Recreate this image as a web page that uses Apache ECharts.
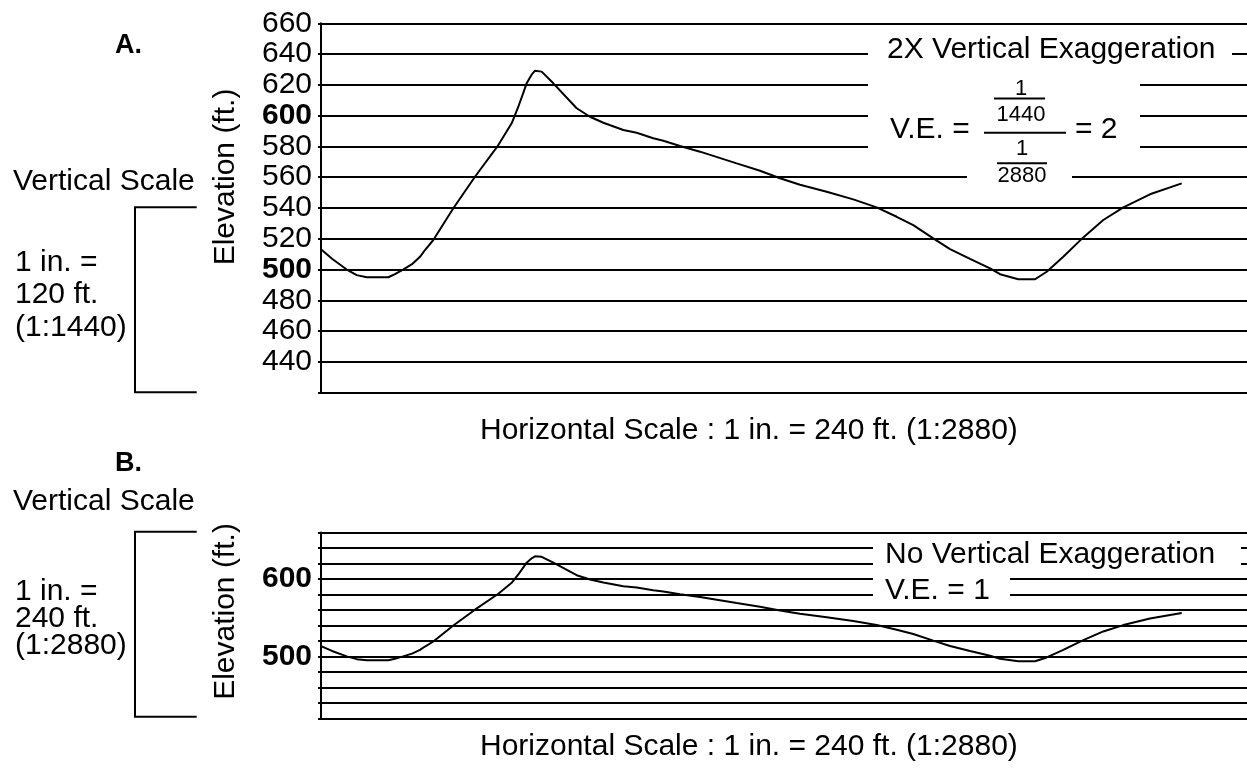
<!DOCTYPE html>
<html>
<head>
<meta charset="utf-8">
<script src="https://cdn.jsdelivr.net/npm/echarts@6/dist/echarts.min.js"></script>
<style>
html,body{margin:0;padding:0;background:#fff;}
#chart{width:1247px;height:768px;}
</style>
</head>
<body>
<div id="chart"></div>
<script>
// Profile data: horizontal distance (arbitrary units 0-100 across the plot) and elevation (ft.)
var distance = [0, 1.19, 2.78, 3.86, 4.94, 7.27, 7.99, 8.86, 9.83, 10.69, 11.23, 12.13, 14.29, 16.63, 19.15, 20.59, 21.31, 22.21, 22.79, 23.11, 23.83, 25.09, 27.61, 29.05, 30.49, 32.65, 34.09, 35.88, 36.97, 38.77, 40.93, 44.89, 47.41, 49.57, 51.73, 54.61, 57.48, 60.01, 62.17, 63.96, 66.12, 67.93, 70.09, 72.25, 73.33, 75.30, 77.11, 78.37, 80.16, 82.32, 84.48, 86.65, 89.52, 92.95];
var elevation = [513.2, 507, 500, 496.4, 495, 495, 497, 500, 503.5, 508.3, 512.7, 519.2, 539.8, 560.3, 580.9, 595, 605.8, 621, 627, 629.2, 628.6, 621, 604.8, 599.3, 595.4, 590.7, 588.9, 585.3, 583.7, 580.3, 576.6, 569.0, 564.2, 559.3, 555.1, 550.6, 545.6, 540.4, 534.3, 528.9, 520.3, 513.3, 507, 500.8, 497, 493.7, 493.7, 498.6, 508.3, 520.9, 532.2, 540.4, 548.9, 556.0];
var elevMin = 420, elevMax = 660, elevStep = 20;
var boldTicksA = [500, 600];
var labelTicksB = [500, 600];

var FONT = '"Liberation Sans", Arial, Helvetica, sans-serif';
var profile = distance.map(function (d, i) { return [d, elevation[i]]; });

function yAxisCfg(gridIndex, formatter) {
  return {
    type: 'value', gridIndex: gridIndex, min: elevMin, max: elevMax, interval: elevStep,
    axisLine: { show: true, onZero: false, lineStyle: { color: '#000', width: 2 } },
    axisTick: { show: true, length: 3, inside: false, lineStyle: { color: '#000', width: 2 } },
    splitLine: { show: true, lineStyle: { color: '#000', width: 2 } },
    axisLabel: {
      show: true, margin: 9, color: '#000', fontSize: 30, fontFamily: FONT,
      showMinLabel: true, showMaxLabel: true, hideOverlap: false,
      formatter: formatter,
      rich: { b: { fontWeight: 'bold', fontSize: 30, fontFamily: FONT, color: '#000' } }
    }
  };
}
function xAxisCfg(gridIndex) {
  return {
    type: 'value', gridIndex: gridIndex, min: 0, max: 100,
    axisLine: { show: true, onZero: false, lineStyle: { color: '#000', width: 2 } },
    axisTick: { show: false }, axisLabel: { show: false }, splitLine: { show: false }
  };
}
function txt(text, x, y, size, opts) {
  opts = opts || {};
  return {
    type: 'text', x: x, y: y, z: 60, rotation: opts.rotation || 0,
    style: {
      text: text, fill: '#000', fontSize: size, fontFamily: FONT,
      fontWeight: opts.bold ? 'bold' : 'normal',
      align: opts.align || 'left', textAlign: opts.align || 'left',
      verticalAlign: 'middle', textVerticalAlign: 'middle'
    }
  };
}
function rect(x, y, w, h) {
  return { type: 'rect', z: 50, shape: { x: x, y: y, width: w, height: h }, style: { fill: '#fff' } };
}
function line(x1, y1, x2, y2) {
  return { type: 'line', z: 60, shape: { x1: x1, y1: y1, x2: x2, y2: y2 }, style: { stroke: '#000', lineWidth: 2 } };
}
function bracket(x1, x2, yTop, yBot) {
  return { type: 'polyline', z: 60, shape: { points: [[x2, yTop], [x1, yTop], [x1, yBot], [x2, yBot]] },
    style: { stroke: '#000', lineWidth: 2, fill: null } };
}

var chart = echarts.init(document.getElementById('chart'), null, { renderer: 'canvas' });
chart.setOption({
  animation: false,
  backgroundColor: '#fff',
  grid: [
    { left: 321, top: 23.3, right: 0, height: 369.4, containLabel: false, outerBoundsMode: 'none' },
    { left: 321, top: 532.5, right: 0, height: 185.8, containLabel: false, outerBoundsMode: 'none' }
  ],
  xAxis: [xAxisCfg(0), xAxisCfg(1)],
  yAxis: [
    yAxisCfg(0, function (v) {
      if (v === elevMin) return '';
      return boldTicksA.indexOf(v) >= 0 ? '{b|' + v + '}' : String(v);
    }),
    yAxisCfg(1, function (v) {
      return labelTicksB.indexOf(v) >= 0 ? '{b|' + v + '}' : '';
    })
  ],
  series: [
    { type: 'line', xAxisIndex: 0, yAxisIndex: 0, data: profile, showSymbol: false, symbol: 'none',
      lineStyle: { color: '#000', width: 2 }, z: 5 },
    { type: 'line', xAxisIndex: 1, yAxisIndex: 1, data: profile, showSymbol: false, symbol: 'none',
      lineStyle: { color: '#000', width: 2 }, z: 5 }
  ],
  graphic: [
    // white boxes behind annotations (panel A)
    rect(868, 40, 364, 28),
    rect(868, 72, 272, 88),
    rect(967, 166, 105, 24),
    // panel B
    rect(873, 540, 368, 31),
    rect(873, 572, 137, 28),

    // Panel A texts
    txt('A.', 115, 45.5, 27, { bold: true }),
    txt('Vertical Scale', 13, 182.2, 30),
    bracket(135, 196.7, 207.3, 392.3),
    txt('1 in. =', 15, 262.8, 30),
    txt('120 ft.', 15, 294.5, 30),
    txt('(1:1440)', 15, 327.8, 30),
    txt('Elevation (ft.)', 226, 177, 30, { rotation: Math.PI / 2, align: 'center' }),
    txt('Horizontal Scale : 1 in. = 240 ft. (1:2880)', 480, 431.2, 30),
    txt('2X Vertical Exaggeration', 887, 49.5, 30),
    txt('V.E. =', 890, 129.5, 30),
    txt('= 2', 1075, 129.5, 30),
    txt('1', 1021, 89, 22, { align: 'center' }),
    line(994, 98.5, 1045, 98.5),
    txt('1440', 1021, 115, 22, { align: 'center' }),
    line(984, 132.7, 1066, 132.7),
    txt('1', 1022, 149, 22, { align: 'center' }),
    line(997, 163.3, 1047, 163.3),
    txt('2880', 1022, 176.3, 22, { align: 'center' }),

    // Panel B texts
    txt('B.', 115, 463.8, 27, { bold: true }),
    txt('Vertical Scale', 13, 502.2, 30),
    bracket(135, 196.7, 531.7, 716.7),
    txt('1 in. =', 15, 592.2, 30),
    txt('240 ft.', 15, 619, 30),
    txt('(1:2880)', 15, 646.2, 30),
    txt('Elevation (ft.)', 226, 611.5, 30, { rotation: Math.PI / 2, align: 'center' }),
    txt('Horizontal Scale : 1 in. = 240 ft. (1:2880)', 480, 746.5, 30),
    txt('No Vertical Exaggeration', 885, 554.5, 30),
    txt('V.E. = 1', 885, 591.2, 30)
  ]
});
</script>
</body>
</html>
